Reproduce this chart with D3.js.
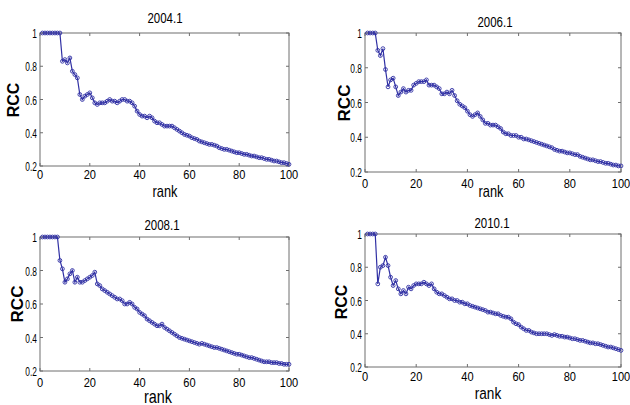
<!DOCTYPE html>
<html>
<head>
<meta charset="utf-8">
<script src="https://cdn.jsdelivr.net/npm/d3@7"></script>
<style>
  body { margin: 0; background: #fff; }
  text { font-family: "Liberation Sans", Arial, sans-serif; fill: #000; }
</style>
</head>
<body>
<svg id="chart" width="630" height="405"></svg>
<script>
"use strict";

// data
const ranks = d3.range(1, 101);
const xTicks = [0, 20, 40, 60, 80, 100];
const yTicks = [0.2, 0.4, 0.6, 0.8, 1];
const titles = ["2004.1", "2006.1", "2008.1", "2010.1"];

const rcc2004 = [1,1,1,1,1,1,1,1,
  0.83,0.84,0.82,0.85,0.77,0.75,0.73,0.63,0.60,0.62,0.63,0.64,
  0.61,0.58,0.57,0.58,0.58,0.58,0.59,0.60,0.59,0.59,
  0.58,0.59,0.60,0.60,0.59,0.59,0.58,0.56,0.53,0.51,
  0.50,0.50,0.49,0.50,0.49,0.47,0.46,0.46,0.45,0.44,
  0.44,0.44,0.44,0.43,0.42,0.41,0.40,0.39,0.385,0.38,
  0.37,0.365,0.36,0.35,0.345,0.34,0.335,0.33,0.33,0.325,
  0.32,0.31,0.305,0.30,0.30,0.295,0.29,0.285,0.28,0.28,
  0.275,0.27,0.27,0.265,0.26,0.26,0.255,0.25,0.25,0.245,
  0.24,0.24,0.235,0.23,0.23,0.225,0.22,0.22,0.215,0.21];

const rcc2006 = [1,1,1,1,
  0.90,0.87,0.91,0.79,0.69,0.73,
  0.74,0.69,0.64,0.66,0.68,0.66,0.67,0.67,0.70,0.71,
  0.72,0.72,0.72,0.73,0.70,0.70,0.70,0.69,0.68,0.65,
  0.65,0.66,0.65,0.67,0.64,0.61,0.59,0.58,0.57,0.55,
  0.53,0.52,0.53,0.54,0.52,0.50,0.48,0.48,0.47,0.47,
  0.47,0.46,0.45,0.43,0.42,0.42,0.41,0.41,0.41,0.40,
  0.40,0.39,0.39,0.385,0.38,0.375,0.37,0.365,0.36,0.355,
  0.35,0.345,0.34,0.33,0.325,0.32,0.32,0.315,0.31,0.31,
  0.305,0.30,0.30,0.29,0.285,0.28,0.275,0.27,0.27,0.265,
  0.26,0.26,0.255,0.25,0.25,0.245,0.24,0.24,0.235,0.235];

const rcc2008 = [1,1,1,1,1,1,1,
  0.86,0.81,0.73,
  0.75,0.78,0.80,0.73,0.76,0.73,0.73,0.74,0.75,0.76,
  0.77,0.79,0.72,0.71,0.69,0.68,0.67,0.66,0.65,0.64,
  0.63,0.63,0.62,0.60,0.60,0.61,0.60,0.58,0.57,0.55,
  0.54,0.53,0.51,0.50,0.49,0.48,0.47,0.47,0.48,0.46,
  0.45,0.44,0.43,0.42,0.41,0.40,0.395,0.39,0.385,0.38,
  0.375,0.37,0.365,0.36,0.365,0.36,0.355,0.35,0.345,0.34,
  0.34,0.335,0.33,0.325,0.32,0.315,0.31,0.305,0.30,0.30,
  0.295,0.29,0.285,0.28,0.28,0.275,0.27,0.265,0.26,0.255,
  0.255,0.255,0.25,0.25,0.25,0.245,0.245,0.24,0.24,0.24];

const rcc2010 = [1,1,1,1,
  0.70,0.80,0.81,0.86,0.81,0.74,
  0.69,0.72,0.67,0.64,0.66,0.64,0.68,0.67,0.69,0.70,
  0.70,0.70,0.71,0.70,0.69,0.70,0.67,0.65,0.64,0.64,
  0.63,0.62,0.61,0.61,0.60,0.60,0.59,0.59,0.58,0.58,
  0.57,0.565,0.56,0.555,0.55,0.545,0.54,0.53,0.53,0.525,
  0.52,0.52,0.51,0.505,0.50,0.50,0.49,0.47,0.46,0.455,
  0.44,0.43,0.42,0.42,0.41,0.405,0.40,0.40,0.40,0.40,
  0.40,0.395,0.39,0.395,0.39,0.385,0.385,0.38,0.38,0.375,
  0.37,0.37,0.365,0.36,0.36,0.355,0.35,0.345,0.345,0.34,
  0.34,0.335,0.33,0.325,0.32,0.32,0.315,0.31,0.305,0.30];

const series = [rcc2004, rcc2006, rcc2008, rcc2010];

// where each axes box sits on the page (MATLAB subplot layout)
const layout = [
  {x0: 40,  x1: 289, top: 33,  bot: 166, titleX: 165, titleY: 23,  tickY: 179, rankX: 165, rankY: 197, rankSize: 16, rccX: 19,  rccY: 100, rccSize: 16},
  {x0: 365, x1: 621, top: 33,  bot: 172, titleX: 495, titleY: 27,  tickY: 188, rankX: 491, rankY: 197, rankSize: 16, rccX: 350, rccY: 103, rccSize: 17},
  {x0: 40,  x1: 289, top: 237, bot: 371, titleX: 162, titleY: 230, tickY: 387, rankX: 158, rankY: 403, rankSize: 18, rccX: 23,  rccY: 304, rccSize: 17},
  {x0: 365, x1: 621, top: 234, bot: 367, titleX: 492, titleY: 228, tickY: 381, rankX: 488, rankY: 399, rankSize: 17, rccX: 347, rccY: 302, rccSize: 16}
];

const lineColor = "#3030a4";
const boxColor = "#6e6e6e";
const svg = d3.select("#chart");

// squeeze text horizontally like the narrow font in the figure
function label(g, str, x, y, size, sx, anchor, weight) {
  return g.append("text")
    .attr("transform", `translate(${x},${y}) scale(${sx},1)`)
    .attr("text-anchor", anchor)
    .style("font-size", size + "px")
    .style("font-weight", weight || "normal")
    .text(str);
}

layout.forEach((p, i) => {
  const values = series[i];
  const x = d3.scaleLinear().domain([0, 100]).range([p.x0, p.x1]);
  const y = d3.scaleLinear().domain([0.2, 1]).range([p.bot, p.top]);
  const g = svg.append("g");

  // box
  g.append("rect")
    .attr("x", p.x0).attr("y", p.top)
    .attr("width", p.x1 - p.x0).attr("height", p.bot - p.top)
    .attr("fill", "none").attr("stroke", boxColor).attr("stroke-width", 1);

  // inward ticks on all four sides
  const tl = 3;
  xTicks.forEach(t => {
    g.append("line").attr("x1", x(t)).attr("x2", x(t)).attr("y1", p.bot).attr("y2", p.bot - tl).attr("stroke", boxColor);
    g.append("line").attr("x1", x(t)).attr("x2", x(t)).attr("y1", p.top).attr("y2", p.top + tl).attr("stroke", boxColor);
    label(g, String(t), x(t), p.tickY, 13, 0.85, "middle");
  });
  yTicks.forEach(t => {
    g.append("line").attr("x1", p.x0).attr("x2", p.x0 + tl).attr("y1", y(t)).attr("y2", y(t)).attr("stroke", boxColor);
    g.append("line").attr("x1", p.x1).attr("x2", p.x1 - tl).attr("y1", y(t)).attr("y2", y(t)).attr("stroke", boxColor);
    label(g, String(t), p.x0 - 3, y(t) + 5, 13.5, 0.62, "end");
  });

  // line with open circle markers
  const line = d3.line().x((d, j) => x(ranks[j])).y(d => y(d));
  g.append("path").datum(values)
    .attr("d", line)
    .attr("fill", "none").attr("stroke", lineColor).attr("stroke-width", 1.2);
  g.selectAll("circle.m").data(values).enter()
    .append("circle")
    .attr("class", "m")
    .attr("cx", (d, j) => x(ranks[j]))
    .attr("cy", d => y(d))
    .attr("r", 1.9)
    .attr("fill", "none").attr("stroke", lineColor).attr("stroke-width", 0.9);

  // texts
  label(g, titles[i], p.titleX, p.titleY, 14, 0.82, "middle");
  label(g, "rank", p.rankX, p.rankY, p.rankSize, 0.8, "middle");
  g.append("text")
    .attr("transform", `translate(${p.rccX},${p.rccY}) rotate(-90)`)
    .attr("text-anchor", "middle")
    .style("font-size", p.rccSize + "px")
    .style("font-weight", "bold")
    .text("RCC");
});
</script>
</body>
</html>
